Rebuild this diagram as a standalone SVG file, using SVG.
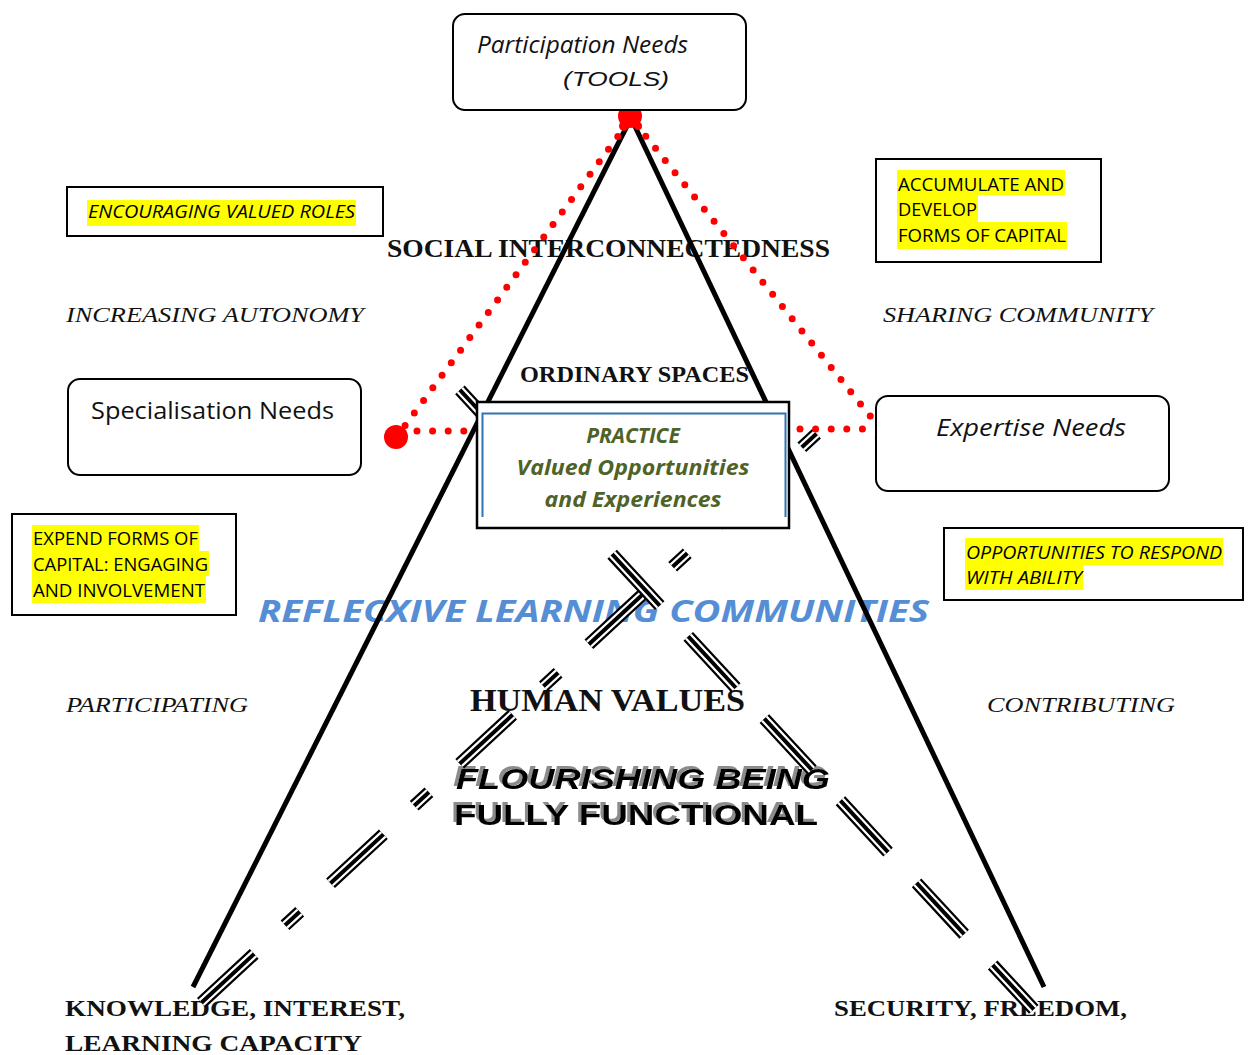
<svg xmlns="http://www.w3.org/2000/svg" xmlns:xlink="http://www.w3.org/1999/xlink" width="1250" height="1055" viewBox="0 0 1250 1055">
  <style>
    .box { fill: #ffffff; stroke: #000000; stroke-width: 2; }
    .hl { fill: #ffff00; }
    .need { font-family: "Open Sans", "Liberation Sans", sans-serif; font-size: 23px; fill: #111111; }
    .cap { font-family: "Open Sans", "Liberation Sans", sans-serif; font-size: 18px; fill: #000000; }
    .head { font-family: "Liberation Serif", "DejaVu Serif", serif; font-weight: bold; fill: #111111; }
    .thin { font-family: "Liberation Serif", "DejaVu Serif", serif; font-style: italic; font-size: 21px; fill: #111111; }
    .practice { font-family: "Open Sans", "Liberation Sans", sans-serif; font-style: italic; font-weight: bold; font-size: 21px; fill: #4f6228; text-anchor: middle; }
    .leg { stroke: #000000; stroke-width: 5; fill: none; }
    .dots { stroke: #ff0000; stroke-width: 7; stroke-linecap: round; fill: none; stroke-dasharray: 0 15.6; }
    .tripA { fill: none; stroke-dasharray: 20 42 72 42; }
    .tripB { fill: none; stroke-dasharray: 70 42; }
    .t1 { stroke: #000000; stroke-width: 13; }
    .t2 { stroke: #ffffff; stroke-width: 8.5; }
    .t3 { stroke: #000000; stroke-width: 4; }
    .heavy { font-family: "Liberation Sans", "DejaVu Sans", sans-serif; font-weight: 900; font-size: 29px; fill: #000000; filter: url(#greyShadow); }
  </style>
  <defs>
    <path id="diagA" d="M816.5,433.7 L201.4,1002.7"/>
    <path id="diagB" d="M459.9,389.9 L1033.8,1009.4"/>
    <!-- grey offset copy behind heavy lettering -->
    <filter id="greyShadow" x="-5%" y="-30%" width="110%" height="160%">
      <feOffset in="SourceAlpha" dx="-3" dy="-3" result="off"/>
      <feFlood flood-color="#8c8c8c"/>
      <feComposite in2="off" operator="in" result="grey"/>
      <feMerge>
        <feMergeNode in="grey"/>
        <feMergeNode in="SourceGraphic"/>
      </feMerge>
    </filter>
  </defs>

  <rect width="1250" height="1055" fill="#ffffff"/>

  <!-- free-standing labels -->
  <g id="labels">
    <text class="head" x="387" y="257" font-size="25" textLength="443" lengthAdjust="spacingAndGlyphs">SOCIAL INTERCONNECTEDNESS</text>
    <text class="thin" x="66" y="322" textLength="298" lengthAdjust="spacingAndGlyphs">INCREASING AUTONOMY</text>
    <text class="thin" x="883" y="322" textLength="270" lengthAdjust="spacingAndGlyphs">SHARING COMMUNITY</text>
    <text class="head" x="520" y="382" font-size="24" textLength="229" lengthAdjust="spacingAndGlyphs">ORDINARY SPACES</text>
    <text x="258" y="622" font-family="Open Sans, Liberation Sans, sans-serif" font-style="italic" font-weight="bold" font-size="30" fill="#558ed5" textLength="671" lengthAdjust="spacingAndGlyphs">REFLECXIVE LEARNING COMMUNITIES</text>
    <text class="thin" x="66" y="712" textLength="182" lengthAdjust="spacingAndGlyphs">PARTICIPATING</text>
    <text class="thin" x="987" y="712" textLength="188" lengthAdjust="spacingAndGlyphs">CONTRIBUTING</text>
    <text class="head" x="470" y="711" font-size="31" textLength="275" lengthAdjust="spacingAndGlyphs">HUMAN VALUES</text>
    <text class="heavy" x="456" y="789" font-style="italic" textLength="374" lengthAdjust="spacingAndGlyphs">FLOURISHING BEING</text>
    <text class="heavy" x="454" y="825" textLength="364" lengthAdjust="spacingAndGlyphs">FULLY FUNCTIONAL</text>
    <text class="head" x="65" y="1016" font-size="24" textLength="340" lengthAdjust="spacingAndGlyphs">KNOWLEDGE, INTEREST,</text>
    <text class="head" x="65" y="1051" font-size="24" textLength="297" lengthAdjust="spacingAndGlyphs">LEARNING CAPACITY</text>
    <text class="head" x="834" y="1016" font-size="24" textLength="293" lengthAdjust="spacingAndGlyphs">SECURITY, FREEDOM,</text>
  </g>

  <!-- connectors: triangle legs, triple-line dashed diagonals, red dotted links -->
  <g id="connectors">
    <line class="leg" x1="631" y1="118" x2="193" y2="987"/>
    <line class="leg" x1="631" y1="118" x2="1044" y2="987"/>

    <use xlink:href="#diagA" class="tripA t1"/>
    <use xlink:href="#diagA" class="tripA t2"/>
    <use xlink:href="#diagA" class="tripA t3"/>
    <use xlink:href="#diagB" class="tripB t1"/>
    <use xlink:href="#diagB" class="tripB t2"/>
    <use xlink:href="#diagB" class="tripB t3"/>

    <line class="dots" x1="627" y1="124" x2="404" y2="427"/>
    <line class="dots" x1="417" y1="431" x2="466" y2="431"/>
    <line class="dots" x1="636" y1="124" x2="871" y2="417"/>
    <line class="dots" x1="800" y1="429" x2="866" y2="429"/>
    <circle cx="630" cy="116" r="12" fill="#ff0000"/>
    <circle cx="624" cy="126" r="5" fill="#ff0000"/>
    <circle cx="638" cy="126" r="4" fill="#ff0000"/>
    <circle cx="396" cy="437" r="12" fill="#ff0000"/>
    <rect x="875.5" y="422.5" width="17" height="17" fill="#ff0000" transform="rotate(5 884 431)"/>
  </g>

  <!-- need boxes -->
  <g id="participation-needs">
    <rect class="box" x="453" y="14" width="293" height="96" rx="12"/>
    <text class="need" x="477" y="53" font-style="italic" font-size="22" textLength="211" lengthAdjust="spacingAndGlyphs">Participation Needs</text>
    <text x="563" y="86" font-family="Liberation Sans, sans-serif" font-style="italic" font-size="20" fill="#111111" textLength="106" lengthAdjust="spacingAndGlyphs">(TOOLS)</text>
  </g>
  <g id="specialisation-needs">
    <rect class="box" x="68" y="379" width="293" height="96" rx="12"/>
    <text class="need" x="91" y="419" textLength="243" lengthAdjust="spacingAndGlyphs">Specialisation Needs</text>
  </g>
  <g id="expertise-needs">
    <rect class="box" x="876" y="396" width="293" height="95" rx="12"/>
    <text class="need" x="936" y="436" font-style="italic" textLength="190" lengthAdjust="spacingAndGlyphs">Expertise Needs</text>
  </g>

  <!-- central practice box -->
  <g id="practice">
    <rect x="477" y="402" width="312" height="126" fill="#ffffff" stroke="#000000" stroke-width="2.5"/>
    <path d="M482.5,517 V413.5 H785.5 V517" fill="none" stroke="#2e75b6" stroke-width="2"/>
    <text class="practice" x="633" y="443">PRACTICE</text>
    <text class="practice" x="633" y="475" textLength="233" lengthAdjust="spacingAndGlyphs">Valued Opportunities</text>
    <text class="practice" x="633" y="507" textLength="177" lengthAdjust="spacingAndGlyphs">and Experiences</text>
  </g>

  <!-- highlighted notes -->
  <g id="encouraging-valued-roles">
    <rect class="box" x="67" y="187" width="316" height="49"/>
    <rect class="hl" x="87" y="200" width="269" height="26"/>
    <text class="cap" x="88" y="218" font-style="italic" textLength="267" lengthAdjust="spacingAndGlyphs">ENCOURAGING VALUED ROLES</text>
  </g>
  <g id="accumulate-capital">
    <rect class="box" x="876" y="159" width="225" height="103"/>
    <rect class="hl" x="897" y="170" width="168" height="25"/>
    <rect class="hl" x="897" y="195" width="81" height="27"/>
    <rect class="hl" x="897" y="222" width="170" height="27"/>
    <text class="cap" x="898" y="191" textLength="166" lengthAdjust="spacingAndGlyphs">ACCUMULATE AND</text>
    <text class="cap" x="898" y="216" textLength="79" lengthAdjust="spacingAndGlyphs">DEVELOP</text>
    <text class="cap" x="898" y="242" textLength="168" lengthAdjust="spacingAndGlyphs">FORMS OF CAPITAL</text>
  </g>
  <g id="expend-capital">
    <rect class="box" x="12" y="514" width="224" height="101"/>
    <rect class="hl" x="32" y="525" width="167" height="26"/>
    <rect class="hl" x="32" y="551" width="177" height="25"/>
    <rect class="hl" x="32" y="576" width="174" height="27"/>
    <text class="cap" x="33" y="545" textLength="165" lengthAdjust="spacingAndGlyphs">EXPEND FORMS OF</text>
    <text class="cap" x="33" y="571" textLength="175" lengthAdjust="spacingAndGlyphs">CAPITAL: ENGAGING</text>
    <text class="cap" x="33" y="597" textLength="172" lengthAdjust="spacingAndGlyphs">AND INVOLVEMENT</text>
  </g>
  <g id="respond-with-ability">
    <rect class="box" x="944" y="528" width="299" height="72"/>
    <rect class="hl" x="965" y="538" width="258" height="27"/>
    <rect class="hl" x="965" y="565" width="118" height="25"/>
    <text class="cap" x="966" y="559" font-style="italic" textLength="256" lengthAdjust="spacingAndGlyphs">OPPORTUNITIES TO RESPOND</text>
    <text class="cap" x="966" y="584" font-style="italic" textLength="116" lengthAdjust="spacingAndGlyphs">WITH ABILITY</text>
  </g>
</svg>
